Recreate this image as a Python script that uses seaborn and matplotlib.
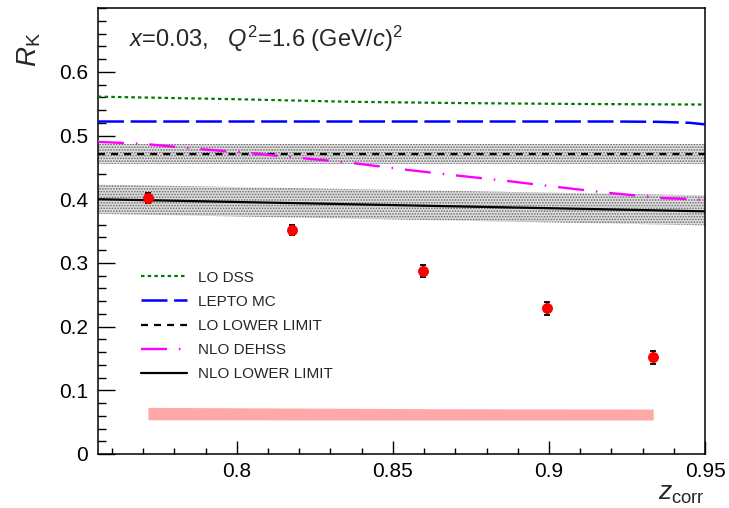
import numpy as np
import pandas as pd
import matplotlib
matplotlib.use("Agg")
import matplotlib.pyplot as plt
import seaborn as sns

# ---------------- data ----------------
z_data = [0.7715, 0.8176, 0.8598, 0.8995, 0.9334]
rk_data = [0.402, 0.352, 0.287, 0.229, 0.152]
rk_stat = [0.008, 0.008, 0.009, 0.010, 0.010]
sys_low = [0.0538, 0.0535, 0.0533, 0.0533, 0.0533]
sys_high = [0.0732, 0.0722, 0.0712, 0.0708, 0.0705]

z_lodss = [0.7555, 0.80, 0.836, 0.87, 0.91, 0.95]
rk_lodss = [0.561, 0.557, 0.553, 0.551, 0.5495, 0.5486]

z_lepto = [0.7555, 0.85, 0.92, 0.935, 0.945, 0.95]
rk_lepto = [0.522, 0.522, 0.522, 0.5215, 0.520, 0.5175]

z_lolow = [0.7555, 0.95]
rk_lolow = [0.471, 0.471]
rk_lolow_lo = [0.456, 0.456]
rk_lolow_hi = [0.486, 0.486]

z_nlo = [0.7555, 0.77, 0.786, 0.803, 0.819, 0.836, 0.853, 0.869, 0.886,
         0.903, 0.919, 0.936, 0.95]
rk_nlo = [0.490, 0.487, 0.4795, 0.473, 0.4654, 0.4575, 0.447, 0.438, 0.429,
          0.419, 0.410, 0.402, 0.399]

z_nlolow = [0.7555, 0.95]
rk_nlolow = [0.400, 0.381]
rk_nlolow_lo = [0.377, 0.359]
rk_nlolow_hi = [0.423, 0.406]

legend_labels = ["LO DSS", "LEPTO MC", "LO LOWER LIMIT", "NLO DEHSS", "NLO LOWER LIMIT"]

# ---------------- style ----------------
sns.set_style("ticks")
plt.rcParams["font.family"] = ["Liberation Sans", "DejaVu Sans"]
plt.rcParams["mathtext.fontset"] = "custom"
plt.rcParams["mathtext.rm"] = "Liberation Sans"
plt.rcParams["mathtext.it"] = "Liberation Sans:italic"
plt.rcParams["lines.scale_dashes"] = False
plt.rcParams["hatch.linewidth"] = 0.8

fig = plt.figure(figsize=(7.29, 5.08), dpi=100)
ax = fig.add_axes([0.1344, 0.1063, 0.9671 - 0.1344, 0.984 - 0.1063])

# grey uncertainty bands
for zz, lo, hi in [(z_lolow, rk_lolow_lo, rk_lolow_hi), (z_nlolow, rk_nlolow_lo, rk_nlolow_hi)]:
    ax.fill_between(zz, lo, hi, facecolor="#dedede", edgecolor="#6a6a6a",
                    hatch="......", linewidth=0, zorder=1)

# systematic band
ax.fill_between(z_data, sys_low, sys_high, color="#ffa8a8", linewidth=0, zorder=1)

# curves
sns.lineplot(x=z_lodss, y=rk_lodss, ax=ax, color="#007a00", lw=1.6,
             linestyle=(0, (2.5, 2.3)), label=legend_labels[0], errorbar=None, zorder=3)
sns.lineplot(x=z_lepto, y=rk_lepto, ax=ax, color="#0000ff", lw=1.8,
             linestyle=(0, (18.7, 4.8)), label=legend_labels[1], errorbar=None, zorder=3)
sns.lineplot(x=z_lolow, y=rk_lolow, ax=ax, color="black", lw=1.6,
             linestyle=(0, (5.0, 4.4)), label=legend_labels[2], errorbar=None, zorder=3)
sns.lineplot(x=z_nlo, y=rk_nlo, ax=ax, color="#ff00ff", lw=1.7,
             linestyle=(0, (18.7, 8.6, 1.1, 8.6)), label=legend_labels[3], errorbar=None, zorder=3)
sns.lineplot(x=z_nlolow, y=rk_nlolow, ax=ax, color="black", lw=1.6,
             label=legend_labels[4], errorbar=None, zorder=3)

# data points
ax.errorbar(z_data, rk_data, yerr=rk_stat, fmt="none", ecolor="black",
            elinewidth=1.3, capsize=2.2, capthick=1.3, zorder=4)
sns.scatterplot(x=z_data, y=rk_data, ax=ax, color="#ff0000", s=62,
                edgecolor="#ff0000", linewidth=0, zorder=5, legend=False)

# axes
ax.set_xlim(0.7555, 0.95)
ax.set_ylim(0, 0.7)
ax.set_xticks([0.8, 0.85, 0.9, 0.95])
ax.set_xticklabels(["0.8", "0.85", "0.9", "0.95"])
ax.set_yticks([0, 0.1, 0.2, 0.3, 0.4, 0.5, 0.6])
ax.set_yticklabels(["0", "0.1", "0.2", "0.3", "0.4", "0.5", "0.6"])
ax.xaxis.set_minor_locator(matplotlib.ticker.MultipleLocator(0.01))
ax.yaxis.set_minor_locator(matplotlib.ticker.MultipleLocator(0.02))
ax.tick_params(axis="both", which="both", direction="in", top=False, right=False,
               labelsize=15, width=1.0, colors="black")
ax.tick_params(axis="y", which="major", length=12, pad=7)
ax.tick_params(axis="y", which="minor", length=6)
ax.tick_params(axis="x", which="major", length=9.5, pad=6)
ax.tick_params(axis="x", which="minor", length=4.5)
for sp in ax.spines.values():
    sp.set_visible(True)
    sp.set_linewidth(1.1)
    sp.set_color("black")

ax.set_ylabel(r"$R_{\mathrm{K}}$", fontsize=20, loc="top")
ax.yaxis.set_label_coords(-0.09, 0.945)
ax.set_xlabel(r"$z_{\mathrm{corr}}$", fontsize=19, loc="right")
ax.xaxis.set_label_coords(1.0, -0.062)

ax.text(0.051, 0.9126, r"$x$=0.03,   $Q^2$=1.6 (GeV/$c$)$^2$", transform=ax.transAxes,
        fontsize=17, va="baseline", ha="left")

leg = ax.legend(loc="upper left", bbox_to_anchor=(0.0708, 0.411), frameon=False,
                fontsize=11, handlelength=3.0, handletextpad=0.72, labelspacing=0.66,
                borderpad=0, borderaxespad=0)

fig.savefig("out.png", dpi=100)
